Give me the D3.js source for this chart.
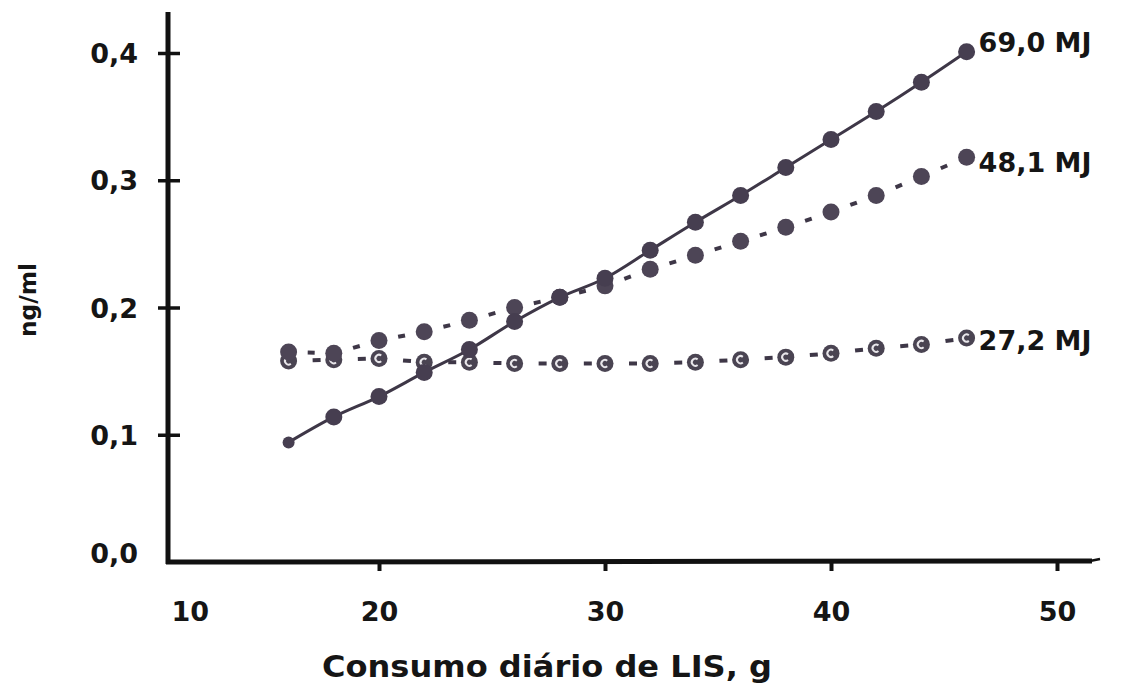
<!DOCTYPE html>
<html>
<head>
<meta charset="utf-8">
<script src="https://cdn.jsdelivr.net/npm/d3@7"></script>
<style>
  html, body { margin: 0; padding: 0; background: #ffffff; }
  svg { display: block; }
  text { font-family: "DejaVu Sans", sans-serif; font-weight: bold; fill: #151515; }
</style>
</head>
<body>
<svg id="chart" width="1121" height="687"></svg>
<script>
// ---- data ----
const xValues = [16, 18, 20, 22, 24, 26, 28, 30, 32, 34, 36, 38, 40, 42, 44, 46];
const series690 = [0.094, 0.114, 0.130, 0.149, 0.167, 0.189, 0.208, 0.223, 0.245, 0.267, 0.288, 0.310, 0.332, 0.354, 0.377, 0.401];
const series481 = [0.165, 0.164, 0.174, 0.181, 0.190, 0.200, 0.208, 0.217, 0.230, 0.241, 0.252, 0.263, 0.275, 0.288, 0.303, 0.318];
const series272 = [0.158, 0.159, 0.160, 0.157, 0.157, 0.156, 0.156, 0.156, 0.156, 0.157, 0.159, 0.161, 0.164, 0.168, 0.171, 0.176];
const seriesLabels = ["69,0 MJ", "48,1 MJ", "27,2 MJ"];
const xTicks = [10, 20, 30, 40, 50];
const yTicks = [0.0, 0.1, 0.2, 0.3, 0.4];
const xTitle = "Consumo diário de LIS, g";
const yTitle = "ng/ml";

// ---- layout ----
const svg = d3.select("#chart");
const AXIS_X = 168, AXIS_Y = 562;
const x = d3.scaleLinear().domain([10, 50]).range([153, 1057]);
const y = d3.scaleLinear().domain([0, 0.4]).range([562, 53]);

const ink = "#111111";
const markDark = "#463e50";
const lineCol = "#3e3747";

// axes lines
svg.append("line").attr("x1", AXIS_X).attr("x2", AXIS_X).attr("y1", 12).attr("y2", AXIS_Y + 2)
  .attr("stroke", ink).attr("stroke-width", 5);
svg.append("line").attr("x1", AXIS_X - 2).attr("x2", 1092).attr("y1", AXIS_Y).attr("y2", AXIS_Y - 1)
  .attr("stroke", ink).attr("stroke-width", 5);
svg.append("line").attr("x1", 1090).attr("x2", 1100).attr("y1", AXIS_Y - 1).attr("y2", AXIS_Y - 3)
  .attr("stroke", ink).attr("stroke-width", 2.5);

// y axis
const yAxis = d3.axisLeft(y).tickValues(yTicks).tickSize(10).tickPadding(20)
  .tickFormat(d => d.toFixed(1).replace(".", ","));
const gy = svg.append("g").attr("transform", `translate(${AXIS_X},0)`).call(yAxis);
gy.select(".domain").remove();
gy.selectAll(".tick line").attr("x1", 12).attr("x2", -10).attr("stroke", ink).attr("stroke-width", 3.5)
  .filter(d => d === 0).remove();
gy.selectAll(".tick text").attr("font-size", 27).attr("font-family", "DejaVu Sans").attr("font-weight", "bold")
  .attr("fill", ink).attr("dy", "0.36em");
gy.selectAll(".tick").filter(d => d === 0).select("text").attr("dy", "0.0em");

// x axis
const xAxis = d3.axisBottom(x).tickValues(xTicks).tickSize(9).tickPadding(31).tickFormat(d3.format("d"));
const gx = svg.append("g").attr("transform", `translate(0,${AXIS_Y})`).call(xAxis);
gx.select(".domain").remove();
gx.selectAll(".tick line").attr("stroke", ink).attr("stroke-width", 4);
gx.selectAll(".tick").filter(d => d === 10).select("line").remove();
gx.selectAll(".tick text").attr("font-size", 27).attr("font-family", "DejaVu Sans").attr("font-weight", "bold")
  .attr("fill", ink);
gx.selectAll(".tick").filter(d => d === 10).select("text")
  .attr("text-anchor", "start").attr("x", AXIS_X - x(10) + 3);

// titles
svg.append("text").attr("x", 547).attr("y", 677).attr("text-anchor", "middle")
  .attr("font-size", 30).attr("textLength", 450).attr("lengthAdjust", "spacingAndGlyphs")
  .text(xTitle);
svg.append("text").attr("transform", "translate(36,300) rotate(-90)").attr("text-anchor", "middle")
  .attr("font-size", 23).attr("textLength", 74).attr("lengthAdjust", "spacingAndGlyphs")
  .text(yTitle);

// series
const pts = (vals) => xValues.map((xv, i) => [x(xv), y(vals[i])]);

// 69.0 MJ: solid line
const p690 = pts(series690);
svg.append("path").attr("d", d3.line().curve(d3.curveMonotoneX)(p690))
  .attr("fill", "none").attr("stroke", lineCol).attr("stroke-width", 3);

// dashes between points for 48.1 and 27.2
function dashes(p, t, len, cls) {
  const segs = [];
  for (let i = 0; i < p.length - 1; i++) {
    const [x0, y0] = p[i], [x1, y1] = p[i + 1];
    const dx = x1 - x0, dy = y1 - y0, L = Math.hypot(dx, dy);
    const cx = x0 + dx * t, cy = y0 + dy * t;
    segs.push([cx - dx / L * len / 2, cy - dy / L * len / 2, cx + dx / L * len / 2, cy + dy / L * len / 2]);
  }
  svg.append("g").selectAll("line").data(segs).join("line")
    .attr("x1", d => d[0]).attr("y1", d => d[1]).attr("x2", d => d[2]).attr("y2", d => d[3])
    .attr("stroke", lineCol).attr("stroke-width", 4);
}
const p481 = pts(series481);
const p272 = pts(series272);
dashes(p481, 0.5, 7);
dashes(p272, 0.62, 8);

// markers 27.2 (ring with C)
const g272 = svg.append("g");
g272.selectAll("circle").data(p272).join("circle")
  .attr("cx", d => d[0]).attr("cy", d => d[1]).attr("r", 8.5).attr("fill", "#4a4452");
const cArc = d3.arc().innerRadius(2.6).outerRadius(4.6)
  .startAngle(Math.PI / 2 + 0.9).endAngle(Math.PI / 2 + 2 * Math.PI - 0.9);
g272.selectAll("path").data(p272).join("path")
  .attr("transform", d => `translate(${d[0]},${d[1]})`).attr("d", cArc()).attr("fill", "#e8e6ea");

// markers 48.1
svg.append("g").selectAll("circle").data(p481).join("circle")
  .attr("cx", d => d[0]).attr("cy", d => d[1]).attr("r", 8.5).attr("fill", "#4d4556");

// markers 69.0
svg.append("g").selectAll("circle").data(p690).join("circle")
  .attr("cx", d => d[0]).attr("cy", d => d[1]).attr("r", (d, i) => i === 0 ? 6 : 8.5).attr("fill", markDark);

// series labels
const lastPts = [p690[p690.length - 1], p481[p481.length - 1], p272[p272.length - 1]];
const labOff = [-9, 5, 2];
svg.append("g").selectAll("text").data(seriesLabels).join("text")
  .attr("x", (d, i) => lastPts[i][0] + 12)
  .attr("y", (d, i) => lastPts[i][1] + labOff[i])
  .attr("dy", "0.36em").attr("font-size", 27)
  .text(d => d);
</script>
</body>
</html>
